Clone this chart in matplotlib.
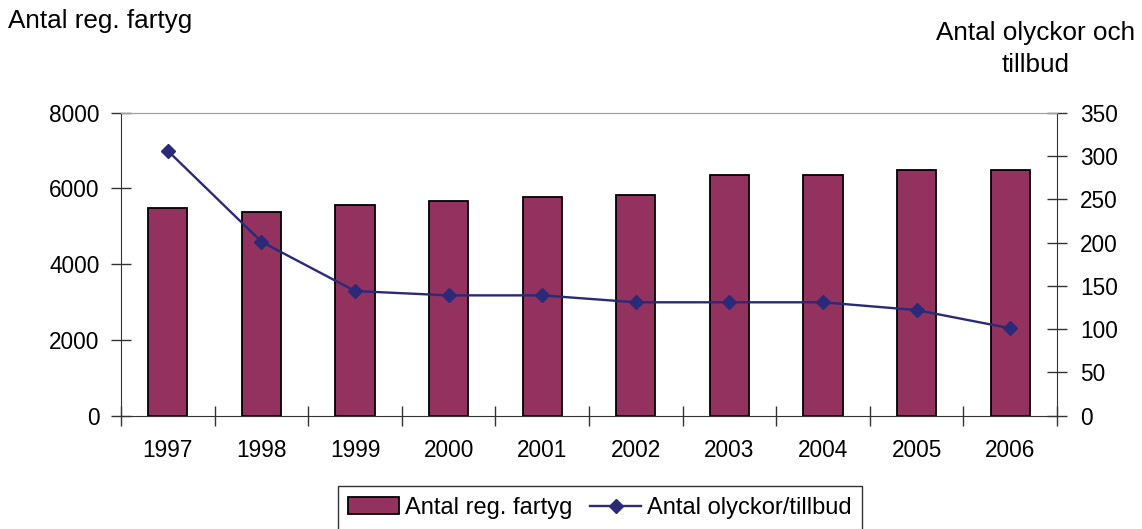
import matplotlib
matplotlib.use("Agg")
import matplotlib.pyplot as plt
import numpy as np

plt.rcParams["font.family"] = ["Liberation Sans", "DejaVu Sans"]

years = ["1997", "1998", "1999", "2000", "2001", "2002", "2003", "2004", "2005", "2006"]
reg_fartyg = [5480, 5380, 5570, 5670, 5770, 5830, 6350, 6350, 6500, 6500]
olyckor = [306, 201, 144, 139, 139, 131, 131, 131, 122, 101]

bar_color = "#93325f"
line_color = "#2a2a78"
tick_fs = 16.3
label_fs = 18.8
legend_fs = 17

W, H = 1142, 529
fig = plt.figure(figsize=(W / 100, H / 100), dpi=100)
ax = fig.add_axes([121 / W, 1 - 415.7 / H, (1057 - 121) / W, (415.7 - 112.7) / H])
ax2 = ax.twinx()

x = np.arange(len(years))
bars = ax.bar(x, reg_fartyg, width=0.42, color=bar_color, edgecolor="black",
              linewidth=1.3, label="Antal reg. fartyg", zorder=2)
line, = ax2.plot(x, olyckor, color=line_color, linewidth=1.7, marker="D",
                 markersize=7.5, label="Antal olyckor/tillbud", zorder=3)

ax.set_xlim(-0.5, len(years) - 0.5)
ax.set_ylim(0, 8000)
ax.set_yticks(range(0, 8001, 2000))
ax2.set_ylim(0, 350)
ax2.set_yticks(range(0, 351, 50))

ax.set_xticks(x)
ax.set_xticklabels(years)
ax.set_xticks(np.arange(-0.5, len(years), 1.0), minor=True)
ax.tick_params(axis="x", which="major", length=0, pad=17, labelsize=tick_fs)
ax.tick_params(axis="x", which="minor", direction="inout", length=15, width=1, color="#333333")
ax.tick_params(axis="y", direction="inout", length=15, width=1, color="#333333",
               labelsize=tick_fs, pad=8)
ax2.tick_params(axis="y", direction="inout", length=15, width=1, color="#333333",
                labelsize=tick_fs, pad=9)

for a in (ax, ax2):
    a.spines["top"].set_color("#a0a0a0")
    a.spines["left"].set_color("#333333")
    a.spines["right"].set_color("#333333")
    a.spines["bottom"].set_color("#333333")
ax.spines["right"].set_visible(False)
ax2.spines["left"].set_visible(False)
ax2.spines["bottom"].set_visible(False)

fig.text(8 / W, 1 - 21 / H, "Antal reg. fartyg", fontsize=label_fs, ha="left", va="center")
fig.text(1036 / W, 1 - 49 / H, "Antal olyckor och\ntillbud", fontsize=label_fs,
         ha="center", va="center", linespacing=1.45)

leg = fig.legend([bars, line], ["Antal reg. fartyg", "Antal olyckor/tillbud"],
                 loc="center", bbox_to_anchor=(600 / W, 1 - 508 / H), ncol=2,
                 fontsize=legend_fs, frameon=True, fancybox=False, edgecolor="black",
                 handlelength=2.15, handletextpad=0.25, columnspacing=0.75,
                 borderpad=0.45, borderaxespad=0.0)
leg.get_frame().set_linewidth(1.0)

fig.savefig("out.png", dpi=100)
